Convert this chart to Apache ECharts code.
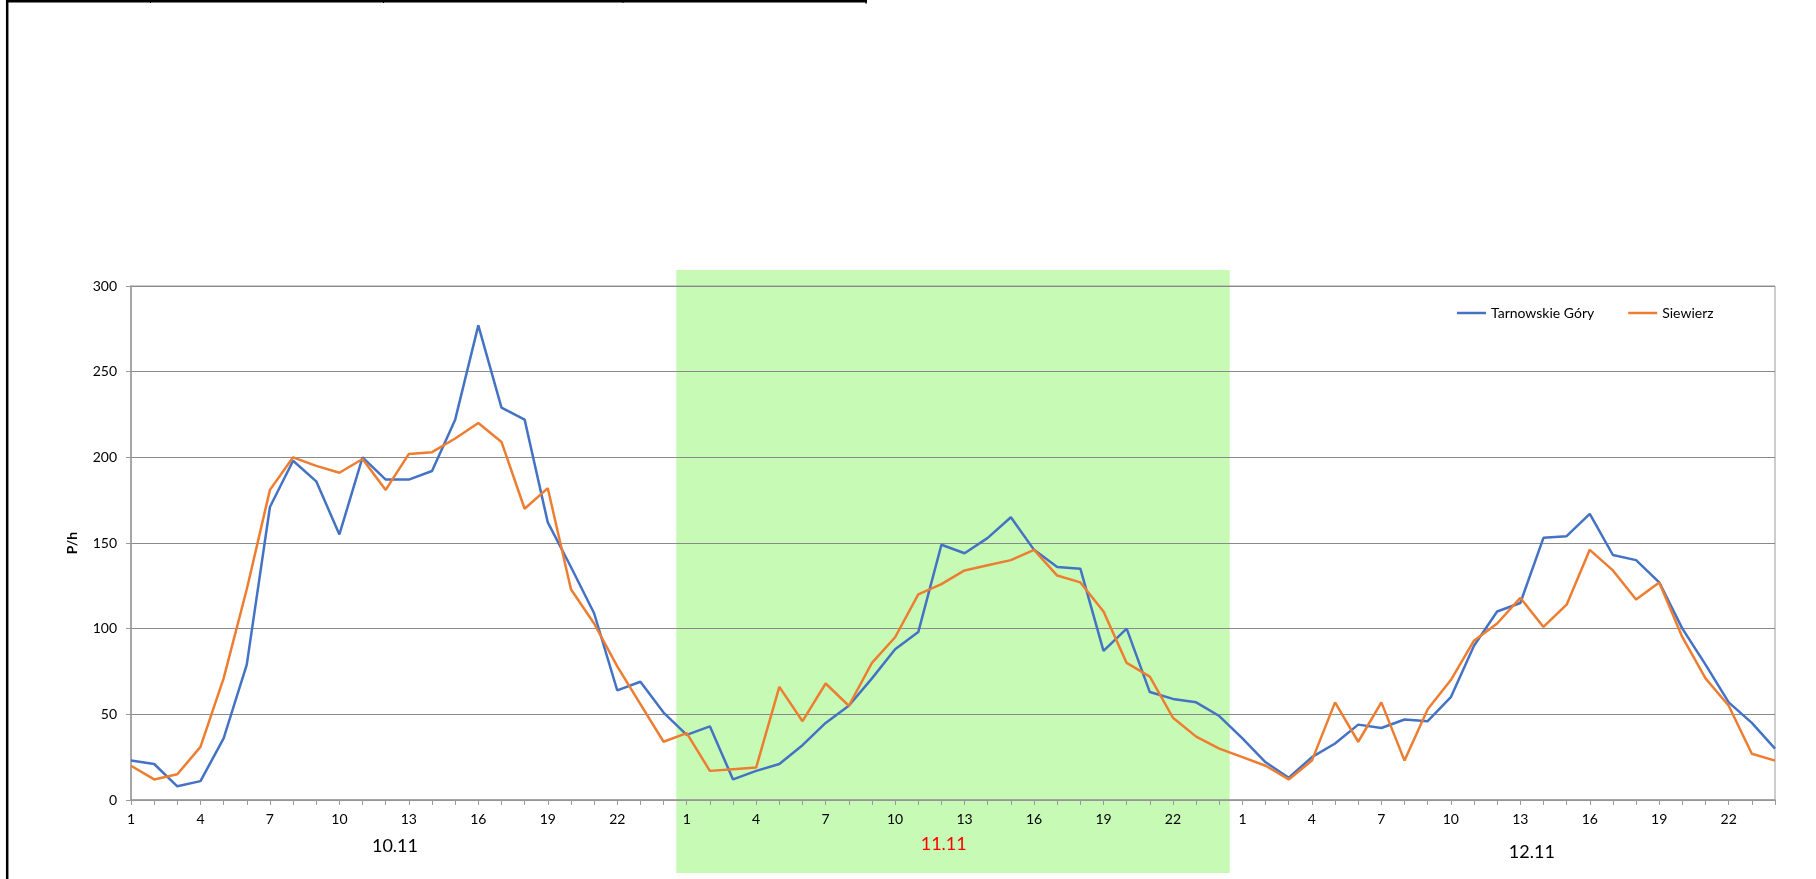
<!DOCTYPE html>
<html>
<head>
<meta charset="utf-8">
<script src="https://cdn.jsdelivr.net/npm/echarts@6/dist/echarts.min.js"></script>
<style>
html,body{margin:0;padding:0;background:#fff;}
#chart{width:1816px;height:879px;}
</style>
</head>
<body>
<div id="chart"></div>
<script>
// ---- data ----
const hourLabels = [];
for (let d = 0; d < 3; d++) for (let h = 1; h <= 24; h++) hourLabels.push(String(h));
const dayLabels = ['10.11', '11.11', '12.11'];
const dayLabelColors = ['#000000', '#ff0000', '#000000'];
const dayLabelPos = [11.4, 35.1, 60.5];      // centre position along hour axis
const dayLabelYOffset = [46, 44, 52];        // px below the axis line
const seriesNames = ['Tarnowskie Góry', 'Siewierz'];
const tarnowskie = [
  23,21,8,11,36,79,171,198,186,155,200,187,187,192,222,277,229,222,162,136,109,64,69,51,
  38,43,12,17,21,32,45,55,71,88,98,149,144,153,165,146,136,135,87,100,63,59,57,49,
  36,22,13,25,33,44,42,47,46,60,90,110,115,153,154,167,143,140,127,100,79,57,45,30
];
const siewierz = [
  20,12,15,31,71,123,181,200,195,191,199,181,202,203,211,220,209,170,182,123,103,78,56,34,
  39,17,18,19,66,46,68,55,80,95,120,126,134,137,140,146,131,127,110,80,72,48,37,30,
  25,20,12,23,57,34,57,23,53,70,93,103,118,101,114,146,134,117,127,95,71,55,27,23
];
const highlightRange = [23.55, 47.45];
const yTicks = { min: 0, max: 300, interval: 50 };

// ---- chart ----
const FONT = 'Lato, "Open Sans", sans-serif';
const chart = echarts.init(document.getElementById('chart'), null, { renderer: 'canvas' });
const toPairs = arr => arr.map((v, i) => [i, v]);

chart.setOption({
  animation: false,
  backgroundColor: '#ffffff',
  textStyle: { fontFamily: FONT },
  grid: { left: 131, right: 41, top: 286, bottom: 79, show: true, borderColor: '#9a9a9a', borderWidth: 1, backgroundColor: 'transparent' },
  legend: {
    data: seriesNames.map(n => ({ name: n, icon: 'rect' })),
    left: 1452, top: 301,
    itemWidth: 29, itemHeight: 2.5, itemGap: 34,
    textStyle: { fontFamily: FONT, fontSize: 14, color: '#000' }
  },
  xAxis: {
    type: 'value', min: 0, max: hourLabels.length - 1, interval: 1,
    axisLine: { lineStyle: { color: '#9a9a9a', width: 1.5 } },
    axisTick: { show: true, length: 5, lineStyle: { color: '#9a9a9a' } },
    splitLine: { show: false },
    axisLabel: {
      margin: 12, fontSize: 14, color: '#000', fontFamily: FONT,
      formatter: v => (v % 3 === 0 ? hourLabels[v] : '')
    }
  },
  yAxis: {
    type: 'value', min: yTicks.min, max: yTicks.max, interval: yTicks.interval,
    name: 'P/h', nameLocation: 'middle', nameRotate: 90, nameGap: 52,
    nameTextStyle: { fontFamily: FONT, fontWeight: 'bold', fontSize: 14, color: '#000' },
    axisLine: { show: true, lineStyle: { color: '#9a9a9a', width: 1.5 } },
    axisTick: { show: true, length: 5, lineStyle: { color: '#9a9a9a' } },
    splitLine: { lineStyle: { color: '#8a8a8a', width: 1.2 } },
    axisLabel: { margin: 14, fontSize: 14, color: '#000', fontFamily: FONT }
  },
  series: [
    { name: seriesNames[0], type: 'line', data: toPairs(tarnowskie), showSymbol: false, symbol: 'none',
      lineStyle: { color: '#4472c4', width: 2.5 }, itemStyle: { color: '#4472c4' }, z: 3 },
    { name: seriesNames[1], type: 'line', data: toPairs(siewierz), showSymbol: false, symbol: 'none',
      lineStyle: { color: '#ed7d31', width: 2.5 }, itemStyle: { color: '#ed7d31' }, z: 4 }
  ]
});

// decorations positioned through the chart's own scales
const px = (x, y) => chart.convertToPixel({ gridIndex: 0 }, [x, y]);
const hl0 = px(highlightRange[0], yTicks.max);
const hl1 = px(highlightRange[1], yTicks.min);
const axisY = px(0, yTicks.min)[1];
const graphics = [
  { type: 'rect', z: -100, silent: true,
    shape: { x: hl0[0], y: hl0[1] - 16, width: hl1[0] - hl0[0], height: (hl1[1] + 73) - (hl0[1] - 16) },
    style: { fill: '#c7fbb5' } },
  // outer frame fragments
  { type: 'line', shape: { x1: 7.2, y1: 0, x2: 7.2, y2: 879 }, style: { stroke: '#000', lineWidth: 2.5 } },
  { type: 'line', shape: { x1: 6, y1: 1.2, x2: 867, y2: 1.2 }, style: { stroke: '#000', lineWidth: 2.4 } },
  { type: 'line', shape: { x1: 150.5, y1: 0, x2: 150.5, y2: 3 }, style: { stroke: '#000', lineWidth: 1 } },
  { type: 'line', shape: { x1: 383.5, y1: 0, x2: 383.5, y2: 3 }, style: { stroke: '#000', lineWidth: 1 } },
  { type: 'line', shape: { x1: 623, y1: 0, x2: 623, y2: 3 }, style: { stroke: '#000', lineWidth: 1 } },
  { type: 'line', shape: { x1: 866, y1: 0, x2: 866, y2: 3.5 }, style: { stroke: '#000', lineWidth: 1.5 } }
];
dayLabels.forEach((t, i) => {
  const p = px(dayLabelPos[i], 0);
  graphics.push({ type: 'text', z: 10, x: p[0], y: axisY + dayLabelYOffset[i],
    style: { text: t, fill: dayLabelColors[i], font: '18px ' + FONT, textAlign: 'center', textVerticalAlign: 'middle' } });
});
chart.setOption({ graphic: graphics });
</script>
</body>
</html>
